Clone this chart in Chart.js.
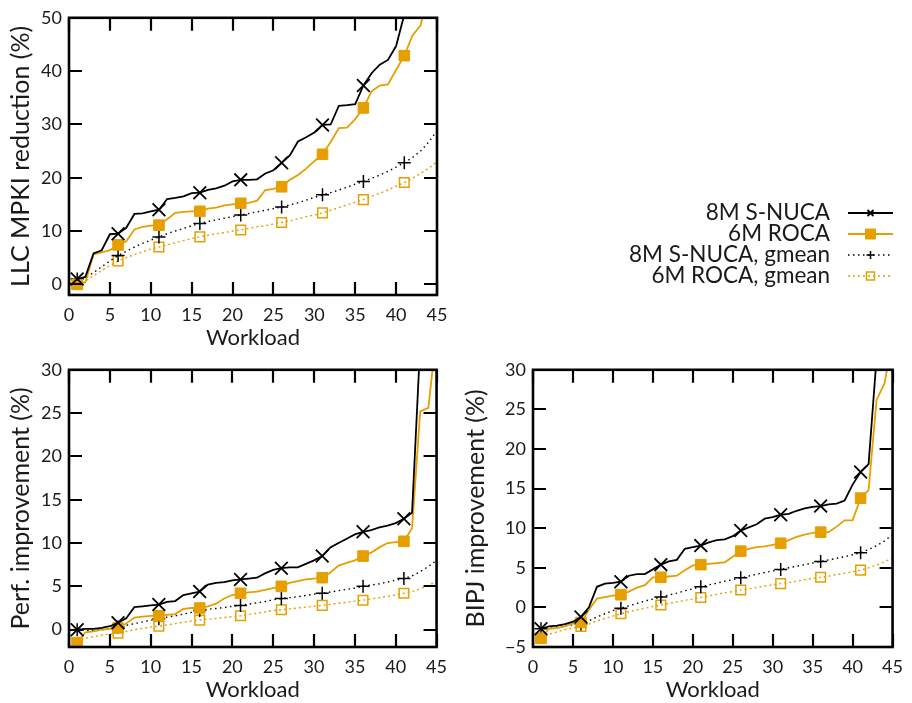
<!DOCTYPE html>
<html>
<head>
<meta charset="utf-8">
<script src="https://cdn.jsdelivr.net/npm/chart.js@4.4.1/dist/chart.umd.min.js"></script>
<style>
  body { margin: 0; background: #fff; width: 912px; height: 703px; position: relative; overflow: hidden; }
  canvas { position: absolute; }
</style>
</head>
<body>
<canvas id="mpki" width="912" height="351" style="left:0;top:0"></canvas>
<canvas id="perf" width="456" height="351" style="left:0;top:352px"></canvas>
<canvas id="bipj" width="456" height="351" style="left:456px;top:352px"></canvas>
<script>
// workloads, sorted by improvement
const workloads = [1, 2, 3, 4, 5, 6, 7, 8, 9, 10, 11, 12, 13, 14, 15, 16, 17, 18, 19, 20, 21, 22, 23,
  24, 25, 26, 27, 28, 29, 30, 31, 32, 33, 34, 35, 36, 37, 38, 39, 40, 41, 42, 43, 44, 45];
const seriesNames = ['8M S-NUCA', '6M ROCA', '8M S-NUCA, gmean', '6M ROCA, gmean'];

const xTicks = [0, 5, 10, 15, 20, 25, 30, 35, 40, 45];
const mpkiTicks = [0, 10, 20, 30, 40, 50];
const perfTicks = [0, 5, 10, 15, 20, 25, 30];
const bipjTicks = [-5, 0, 5, 10, 15, 20, 25, 30];

// LLC MPKI reduction (%)
const mpkiSnuca = [1.0, 1.4, 5.8, 6.4, 9.4, 9.5, 10.6, 13.2, 13.3, 13.7, 14.0, 16.0, 16.2, 16.5, 17.1,
  17.2, 17.7, 18.0, 18.5, 19.3, 19.6, 19.6, 19.7, 20.8, 21.4, 22.8, 24.2, 26.8, 27.6, 28.5,
  29.9, 30.0, 33.5, 33.6, 33.8, 37.3, 39.6, 41.2, 42.1, 44.7, 50.6, 56, 61, 66, 72];
const mpkiRoca = [0.0, 0.4, 5.6, 6.0, 6.4, 7.4, 8.1, 10.3, 10.8, 11.0, 11.1, 12.2, 13.4, 13.6, 13.7,
  13.7, 14.2, 14.4, 14.8, 15.0, 15.2, 15.3, 15.7, 17.7, 17.9, 18.3, 19.6, 20.5, 21.7, 23.1,
  24.4, 26.7, 29.3, 29.4, 31.0, 33.1, 36.2, 37.3, 37.5, 40.2, 42.9, 46.7, 48.6, 55, 62];
const mpkiSnucaGm = [1.0, 1.2, 2.2, 3.3, 4.4, 5.4, 6.2, 7.0, 7.7, 8.3, 8.9, 9.5, 10.0, 10.5, 11.0,
  11.4, 11.8, 12.1, 12.4, 12.7, 13.0, 13.3, 13.6, 13.9, 14.2, 14.5, 14.9, 15.3, 15.8, 16.3,
  16.8, 17.2, 17.7, 18.2, 18.8, 19.3, 19.9, 20.5, 21.2, 22.0, 22.8, 23.8, 25.0, 26.7, 28.8];
const mpkiRocaGm = [0.0, 0.6, 1.6, 2.6, 3.5, 4.4, 5.0, 5.6, 6.1, 6.6, 7.0, 7.4, 7.8, 8.2, 8.6,
  8.9, 9.2, 9.5, 9.7, 10.0, 10.2, 10.5, 10.8, 11.0, 11.3, 11.6, 11.9, 12.3, 12.7, 13.0,
  13.4, 13.9, 14.4, 14.9, 15.4, 15.9, 16.5, 17.1, 17.7, 18.4, 19.1, 19.9, 20.8, 21.8, 23.0];

// Perf. improvement (%)
const perfSnuca = [0.0, 0.1, 0.1, 0.2, 0.4, 0.8, 1.3, 2.6, 2.7, 2.8, 2.9, 3.2, 3.3, 4.0, 4.2,
  4.4, 5.2, 5.4, 5.5, 5.7, 5.8, 5.9, 6.0, 6.5, 6.9, 7.1, 7.2, 7.2, 7.6, 8.0,
  8.5, 9.5, 10.0, 10.5, 11.0, 11.3, 11.5, 11.8, 12.0, 12.3, 12.8, 13.5, 33, 40, 48];
const perfRoca = [-1.5, -0.3, -0.2, 0.0, 0.1, 0.2, 0.7, 1.4, 1.5, 1.6, 1.6, 1.7, 1.8, 2.4, 2.5,
  2.5, 2.7, 3.0, 3.6, 4.0, 4.2, 4.3, 4.4, 4.6, 4.8, 5.0, 5.4, 5.6, 5.8, 5.9,
  6.0, 6.6, 7.4, 7.7, 8.0, 8.5, 8.9, 9.5, 10.0, 10.1, 10.2, 11.7, 25.2, 25.6, 34.4];
const perfSnucaGm = [0.0, -0.1, -0.1, 0.0, 0.1, 0.3, 0.5, 0.7, 0.9, 1.1, 1.25, 1.45, 1.6, 1.8, 2.0,
  2.2, 2.35, 2.45, 2.55, 2.7, 2.8, 2.95, 3.1, 3.25, 3.45, 3.6, 3.7, 3.8, 3.95, 4.1,
  4.2, 4.35, 4.5, 4.65, 4.8, 5.0, 5.15, 5.3, 5.5, 5.7, 5.9, 6.2, 6.7, 7.3, 8.0];
const perfRocaGm = [-1.5, -1.0, -0.8, -0.65, -0.5, -0.4, -0.2, 0.0, 0.15, 0.3, 0.4, 0.55, 0.7, 0.85, 1.0,
  1.1, 1.2, 1.3, 1.4, 1.5, 1.6, 1.75, 1.9, 2.05, 2.2, 2.3, 2.4, 2.5, 2.6, 2.7,
  2.8, 2.9, 3.05, 3.15, 3.3, 3.4, 3.55, 3.7, 3.85, 4.0, 4.2, 4.4, 4.7, 5.1, 5.6];

// BIPJ improvement (%)
const bipjSnuca = [-2.7, -2.4, -2.3, -2.1, -1.8, -1.2, 0.0, 2.6, 3.0, 3.1, 3.25, 4.0, 4.2, 4.2, 4.8,
  5.4, 5.8, 6.0, 7.4, 7.6, 7.8, 8.2, 8.5, 8.6, 9.0, 9.7, 10.1, 10.5, 11.2, 11.4,
  11.7, 11.8, 12.2, 12.5, 12.7, 12.8, 13.0, 13.1, 13.5, 15.5, 17.1, 18.1, 31.5, 40, 46];
const bipjRoca = [-3.9, -2.7, -2.6, -2.4, -2.0, -1.9, -0.3, 1.1, 1.3, 1.5, 1.6, 2.0, 2.5, 2.8, 3.8,
  3.8, 3.9, 4.0, 4.7, 5.3, 5.4, 5.5, 5.6, 5.7, 6.4, 7.1, 7.4, 7.6, 7.7, 7.9,
  8.1, 8.5, 8.9, 9.2, 9.4, 9.5, 9.5, 10.2, 11.0, 11.0, 13.8, 14.8, 26.2, 28.3, 34];
const bipjSnucaGm = [-2.7, -2.5, -2.4, -2.3, -2.2, -2.1, -1.7, -1.2, -0.8, -0.4, -0.1, 0.2, 0.5, 0.8, 1.05,
  1.3, 1.55, 1.8, 2.1, 2.35, 2.6, 2.85, 3.05, 3.3, 3.5, 3.75, 3.95, 4.2, 4.4, 4.6,
  4.8, 5.0, 5.2, 5.4, 5.6, 5.8, 6.0, 6.2, 6.4, 6.65, 6.9, 7.3, 7.8, 8.4, 9.2];
const bipjRocaGm = [-3.9, -3.4, -3.1, -2.8, -2.6, -2.4, -2.1, -1.7, -1.4, -1.1, -0.8, -0.55, -0.3, -0.1, 0.1,
  0.3, 0.5, 0.7, 0.9, 1.05, 1.25, 1.45, 1.65, 1.85, 2.0, 2.2, 2.35, 2.5, 2.7, 2.85,
  3.0, 3.15, 3.3, 3.5, 3.65, 3.8, 3.95, 4.15, 4.3, 4.5, 4.7, 5.0, 5.35, 5.75, 6.25];

const BLACK = '#000000';
const ORANGE = '#e69f00';
const TEXT = '#1a1a1a';
const FONT = 'Lato, "Noto Sans", sans-serif';

// line / marker look for the four series, in seriesNames order
const looks = [
  { color: BLACK, point: 'crossRot', r: 9, fill: BLACK, pw: 1.8, dash: [], w: 1.8 },
  { color: ORANGE, point: 'rect', r: 7.5, fill: ORANGE, pw: 1, dash: [], w: 1.8 },
  { color: BLACK, point: 'cross', r: 6.5, fill: BLACK, pw: 1.5, dash: [1.5, 3.5], w: 1.4 },
  { color: ORANGE, point: 'rect', r: 6.8, fill: 'rgba(0,0,0,0)', pw: 1.5, dash: [2, 3], w: 1.4 }
];

function fmt(v) {
  return v < 0 ? '\u2212' + Math.abs(v) : String(v);
}

// gnuplot style frame with inward ticks on all four sides
const frameTicks = {
  id: 'frameTicks',
  afterDatasetsDraw(chart) {
    const { ctx, chartArea: a, scales: { x, y } } = chart;
    const len = 13;
    ctx.save();
    ctx.strokeStyle = BLACK;
    ctx.lineWidth = 2.2;
    ctx.setLineDash([]);
    ctx.beginPath();
    x.ticks.forEach(t => {
      const px = Math.round(x.getPixelForValue(t.value));
      ctx.moveTo(px, a.bottom); ctx.lineTo(px, a.bottom - len);
      ctx.moveTo(px, a.top); ctx.lineTo(px, a.top + len);
    });
    y.ticks.forEach(t => {
      const py = Math.round(y.getPixelForValue(t.value));
      ctx.moveTo(a.left, py); ctx.lineTo(a.left + len, py);
      ctx.moveTo(a.right, py); ctx.lineTo(a.right - len, py);
    });
    ctx.stroke();
    ctx.lineWidth = 2.6;
    ctx.strokeRect(a.left, a.top, a.right - a.left, a.bottom - a.top);
    ctx.restore();
  }
};

function drawMark(ctx, look, x, y, r) {
  ctx.setLineDash([]);
  ctx.strokeStyle = look.color;
  ctx.fillStyle = look.fill;
  ctx.lineWidth = look.pw;
  ctx.beginPath();
  if (look.point === 'crossRot') {
    ctx.moveTo(x - r, y - r); ctx.lineTo(x + r, y + r);
    ctx.moveTo(x - r, y + r); ctx.lineTo(x + r, y - r);
    ctx.stroke();
  } else if (look.point === 'cross') {
    ctx.moveTo(x - r, y); ctx.lineTo(x + r, y);
    ctx.moveTo(x, y - r); ctx.lineTo(x, y + r);
    ctx.stroke();
  } else {
    ctx.rect(x - r, y - r, 2 * r, 2 * r);
    ctx.fill();
    ctx.stroke();
  }
}

// key to the right of the top chart: text first, then sample
const sideLegend = {
  id: 'sideLegend',
  afterDraw(chart) {
    const o = chart.options.plugins.sideLegend;
    if (!o) return;
    const ctx = chart.ctx;
    ctx.save();
    ctx.font = o.size + 'px ' + FONT;
    ctx.textAlign = 'right';
    ctx.textBaseline = 'middle';
    chart.data.datasets.forEach((ds, i) => {
      const y = o.top + i * o.step;
      const look = looks[i];
      ctx.fillStyle = TEXT;
      ctx.fillText(ds.label, o.textRight, y);
      ctx.strokeStyle = look.color;
      ctx.lineWidth = look.w;
      ctx.setLineDash(look.dash);
      ctx.beginPath();
      ctx.moveTo(o.lineFrom, y);
      ctx.lineTo(o.lineTo, y);
      ctx.stroke();
      drawMark(ctx, look, (o.lineFrom + o.lineTo) / 2, y, o.marks[i]);
    });
    ctx.restore();
  }
};

function makePanel(id, cfg) {
  const datasets = cfg.series.map((vals, i) => {
    const lk = looks[i];
    return {
      label: seriesNames[i],
      data: workloads.map((w, k) => ({ x: w, y: vals[k] })),
      borderColor: lk.color,
      borderWidth: lk.w,
      borderDash: lk.dash,
      tension: 0,
      clip: 0,
      pointStyle: lk.point,
      pointBorderColor: lk.color,
      pointBackgroundColor: lk.fill,
      pointBorderWidth: lk.pw,
      pointRadius: c => (c.dataIndex % 5 === 0 && c.raw.y <= cfg.yMax) ? lk.r : 0,
      pointHoverRadius: 0
    };
  });
  return new Chart(document.getElementById(id), {
    type: 'line',
    data: { datasets: datasets },
    options: {
      responsive: false,
      animation: false,
      events: [],
      layout: { padding: cfg.padding },
      plugins: {
        legend: { display: false },
        tooltip: { enabled: false },
        sideLegend: cfg.legend || false
      },
      scales: {
        x: {
          type: 'linear',
          min: 0, max: 45,
          afterBuildTicks: s => { s.ticks = xTicks.map(v => ({ value: v })); },
          afterFit: s => { s.height = cfg.xHeight; },
          grid: { display: false, drawTicks: false },
          border: { display: false },
          ticks: { color: TEXT, font: { family: FONT, size: 18 }, padding: 9, maxRotation: 0 },
          title: { display: true, text: 'Workload', color: TEXT, font: { family: FONT, size: 22 }, padding: 0 }
        },
        y: {
          type: 'linear',
          min: cfg.yMin, max: cfg.yMax,
          afterBuildTicks: s => { s.ticks = cfg.yTicks.map(v => ({ value: v })); },
          afterFit: s => { s.width = cfg.yWidth; },
          grid: { display: false, drawTicks: false },
          border: { display: false },
          ticks: { color: TEXT, font: { family: FONT, size: 18 }, padding: 7, callback: v => fmt(v) },
          title: { display: true, text: cfg.yTitle, color: TEXT, font: { family: FONT, size: 25 }, padding: { top: cfg.titlePad, bottom: 0 } }
        }
      }
    },
    plugins: [frameTicks, sideLegend]
  });
}

makePanel('mpki', {
  series: [mpkiSnuca, mpkiRoca, mpkiSnucaGm, mpkiRocaGm],
  yMin: -2, yMax: 50, yTicks: mpkiTicks,
  yTitle: 'LLC MPKI reduction (%)',
  yWidth: 69, xHeight: 56, titlePad: 6,
  padding: { left: 0, top: 14, right: 475, bottom: 0 },
  legend: { size: 22.5, textRight: 830, top: 213, step: 21, lineFrom: 848, lineTo: 893, marks: [3, 5, 4, 4] }
});

makePanel('perf', {
  series: [perfSnuca, perfRoca, perfSnucaGm, perfRocaGm],
  yMin: -2, yMax: 30, yTicks: perfTicks,
  yTitle: 'Perf. improvement (%)',
  yWidth: 69, xHeight: 56, titlePad: 6,
  padding: { left: 0, top: 14, right: 18, bottom: 0 }
});

makePanel('bipj', {
  series: [bipjSnuca, bipjRoca, bipjSnucaGm, bipjRocaGm],
  yMin: -5, yMax: 30, yTicks: bipjTicks,
  yTitle: 'BIPJ improvement (%)',
  yWidth: 77, xHeight: 56, titlePad: 5,
  padding: { left: 0, top: 14, right: 13, bottom: 0 }
});
</script>
</body>
</html>
